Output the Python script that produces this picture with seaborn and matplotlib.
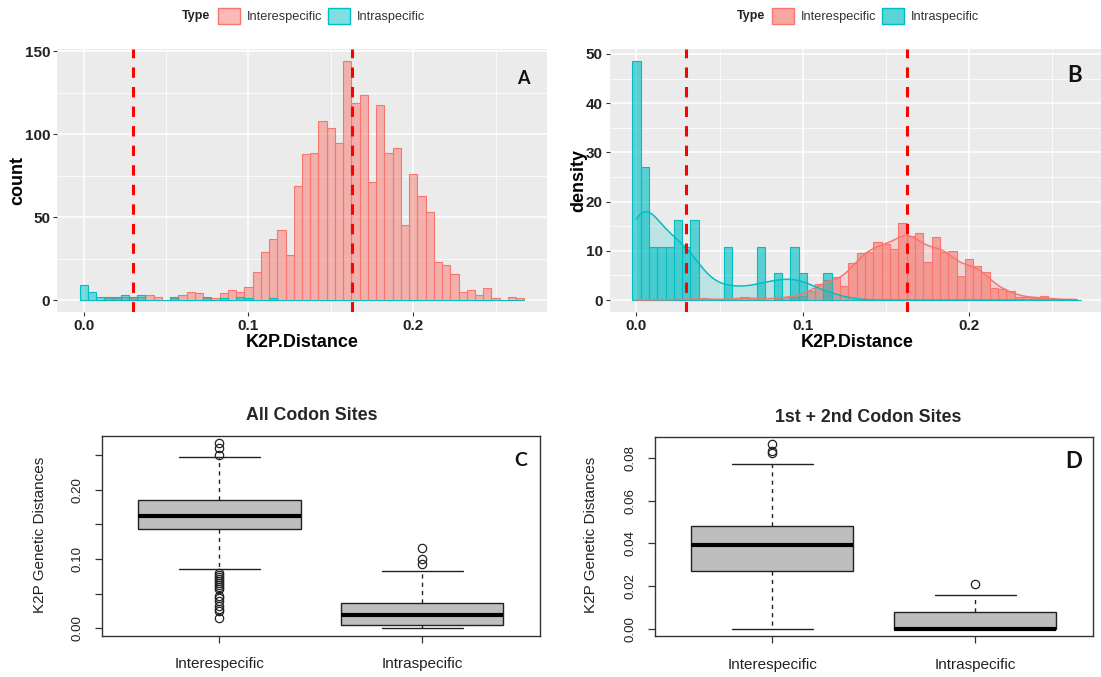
import numpy as np
import pandas as pd
import matplotlib
matplotlib.use("Agg")
import matplotlib.pyplot as plt
import seaborn as sns
from matplotlib.patches import Patch
from matplotlib.colors import to_rgba

# ------------------------------------------------------------------ data
bin_width = 0.005
k2p_bin_centers = np.round(np.arange(54) * bin_width, 4)   # bins centred on 0.000 ... 0.265

inter_counts = [0, 0, 0, 1, 1, 2, 1, 2, 3, 2,
                0, 1, 3, 5, 4, 1, 1, 4, 6, 5,
                8, 17, 29, 37, 42, 27, 69, 88, 89, 108,
                104, 95, 144, 119, 124, 71, 118, 89, 92, 45,
                76, 63, 53, 23, 21, 16, 5, 6, 3, 7,
                1, 0, 2, 1]
intra_counts = [9, 5, 2, 2, 2, 3, 2, 3, 0, 0,
                0, 2, 0, 0, 0, 2, 0, 1, 0, 2,
                1, 0, 0, 1, 0, 0, 0, 0, 0, 0,
                0, 0, 0, 0, 0, 0, 0, 0, 0, 0,
                0, 0, 0, 0, 0, 0, 0, 0, 0, 0,
                0, 0, 0, 0]
threshold_lines = [0.0299, 0.163]
type_labels = ["Interespecific", "Intraspecific"]

# boxplot C (all codon sites)
c_whislo = [0.0855, 0.0]
c_q1 = [0.1435, 0.0043]
c_med = [0.1623, 0.0193]
c_q3 = [0.1845, 0.0367]
c_whishi = [0.2464, 0.083]
c_fliers_inter = [0.2667, 0.2603, 0.2497, 0.080, 0.077, 0.074, 0.071, 0.068, 0.065,
                  0.062, 0.059, 0.056, 0.046, 0.043, 0.040, 0.032, 0.028, 0.025, 0.015]
c_fliers_intra = [0.116, 0.100, 0.0928]
# boxplot D (1st + 2nd codon sites)
d_whislo = [0.0, 0.0]
d_q1 = [0.027, 0.0]
d_med = [0.0391, 0.0]
d_q3 = [0.048, 0.0078]
d_whishi = [0.0772, 0.0156]
d_fliers_inter = [0.0863, 0.0831, 0.0821]
d_fliers_intra = [0.0209]

df = pd.DataFrame({"K2P.Distance": k2p_bin_centers,
                   "inter": np.asarray(inter_counts, dtype=float),
                   "intra": np.asarray(intra_counts, dtype=float)})

# ------------------------------------------------------------------ style
RED = "#F8766D"
TEAL = "#00BFC4"
sns.set_theme(style="white")
plt.rcParams["font.family"] = ["Liberation Sans", "DejaVu Sans"]

W, H = 1101, 677
fig = plt.figure(figsize=(W / 100, H / 100), dpi=100)


def fax(l, t, r, b):
    return fig.add_axes([l / W, 1 - b / H, (r - l) / W, (b - t) / H])


axA = fax(57, 49, 547, 312)
axB = fax(609.5, 49, 1104, 312)
axC = fax(101.7, 435.7, 540, 635.7)
axD = fax(654.5, 437.3, 1093, 636)

BINRANGE = (-bin_width / 2, k2p_bin_centers[-1] + bin_width / 2)
NBINS = len(k2p_bin_centers)


def gg_style(ax, ylim, ymaj, ymin, ylabs, ylabel):
    ax.set_facecolor("#EBEBEB")
    for s in ax.spines.values():
        s.set_visible(False)
    ax.set_xlim(-0.0162, 0.2812)
    ax.set_ylim(ylim)
    ax.set_xticks([0.0, 0.1, 0.2], ["0.0", "0.1", "0.2"], fontsize=11, fontweight="bold", color="#222")
    ax.set_xticks([0.05, 0.15, 0.25], minor=True)
    ax.set_yticks(ymaj, ylabs, fontsize=11, fontweight="bold", color="#222")
    ax.set_yticks(ymin, minor=True)
    ax.grid(which="major", color="white", lw=1.1)
    ax.grid(which="minor", color="white", lw=0.55)
    ax.set_axisbelow(True)
    ax.tick_params(which="major", length=3, width=0.8, color="#333", pad=2,
                   bottom=True, left=True)
    ax.tick_params(which="minor", length=0)
    ax.set_xlabel("K2P.Distance", fontsize=13, fontweight="bold", labelpad=1, color="black")
    ax.set_ylabel(ylabel, fontsize=13, fontweight="bold", labelpad=-1.5, color="black")
    for v in threshold_lines:
        ax.axvline(v, color="#FF0000", lw=2.2, ls=(0, (3.4, 3.0)), zorder=6)


def hist(ax, wcol, col, alpha, stat):
    sns.histplot(data=df, x="K2P.Distance", weights=wcol, bins=NBINS, binrange=BINRANGE,
                 stat=stat, color=col, alpha=alpha, edgecolor=col, linewidth=0.8, ax=ax)


# ---- panel A: counts
hist(axA, "inter", RED, 0.5, "count")
hist(axA, "intra", TEAL, 0.5, "count")
gg_style(axA, (-7.2, 151.5), [0, 50, 100, 150], [25, 75, 125], ["0", "50", "100", "150"], "count")

# ---- panel B: densities
hist(axB, "inter", RED, 0.62, "density")
hist(axB, "intra", TEAL, 0.62, "density")


def kde_factor(h, counts):
    sd = np.sqrt(np.cov(k2p_bin_centers, aweights=np.asarray(counts, dtype=float)))
    return h / sd


for wcol, counts, col, h in [("inter", inter_counts, RED, 0.0065),
                             ("intra", intra_counts, TEAL, 0.0105)]:
    f = kde_factor(h, counts)
    sns.kdeplot(data=df, x="K2P.Distance", weights=wcol, bw_method=f, cut=0, fill=True,
                alpha=0.2, linewidth=0, color=col, ax=axB)
    sns.kdeplot(data=df, x="K2P.Distance", weights=wcol, bw_method=f, cut=0, fill=False,
                linewidth=1.1, color=col, ax=axB)
gg_style(axB, (-2.43, 51.0), [0, 10, 20, 30, 40, 50], [5, 15, 25, 35, 45],
         ["0", "10", "20", "30", "40", "50"], "density")


# ---- legends for A and B
def gg_legend(x_type, x_key, a):
    fig.text(x_type / W, 1 - 16 / H, "Type", fontsize=9, fontweight="bold", ha="center",
             va="center", color="#222")
    handles = [Patch(facecolor=to_rgba(RED, a), edgecolor=RED, lw=1),
               Patch(facecolor=to_rgba(TEAL, a), edgecolor=TEAL, lw=1)]
    fig.legend(handles, type_labels, loc="center left", bbox_to_anchor=(x_key / W, 1 - 16 / H),
               ncol=2, frameon=False, fontsize=9.2, handlelength=1.72, handleheight=1.56,
               handletextpad=0.52, columnspacing=0.49, borderpad=0, borderaxespad=0,
               labelcolor="#333")


gg_legend(196.5, 218, 0.5)
gg_legend(751, 772, 0.65)


# ---- panels C and D: base-R style boxplots
def r_box(ax, whislo, q1, med, q3, whishi, fliers, ylim, yticks, ylabs):
    stats = [dict(whislo=whislo[i], q1=q1[i], med=med[i], q3=q3[i], whishi=whishi[i],
                  fliers=fliers[i], label=type_labels[i]) for i in range(2)]
    ax.bxp(stats, positions=[1, 2], widths=0.8, capwidths=0.4, patch_artist=True,
           manage_ticks=False,
           boxprops=dict(facecolor="#BEBEBE", edgecolor="#222", linewidth=1.0),
           whiskerprops=dict(color="#222", linewidth=1.0, linestyle=(0, (3, 3))),
           capprops=dict(color="#222", linewidth=1.0),
           medianprops=dict(color="black", linewidth=3, solid_capstyle="butt"),
           flierprops=dict(marker="o", markerfacecolor="none", markeredgecolor="#222",
                           markersize=6, markeredgewidth=0.9))
    ax.set_facecolor("white")
    for s in ax.spines.values():
        s.set_visible(True)
        s.set_color("#333")
        s.set_linewidth(1.0)
    ax.set_xlim(0.42, 2.58)
    ax.set_ylim(ylim)
    ax.set_xticks([1, 2], type_labels, fontsize=11, color="#222")
    ax.set_yticks(yticks, ylabs, fontsize=9.6, rotation=90, va="center", color="#222")
    ax.tick_params(length=5, width=0.9, color="#333", direction="out", bottom=True, left=True)
    ax.tick_params(axis="y", pad=8)
    ax.tick_params(axis="x", pad=10.5)
    ax.grid(False)


r_box(axC, c_whislo, c_q1, c_med, c_q3, c_whishi, [c_fliers_inter, c_fliers_intra],
      (-0.0107, 0.2777), [0, 0.05, 0.10, 0.15, 0.20, 0.25], ["0.00", "", "0.10", "", "0.20", ""])
r_box(axD, d_whislo, d_q1, d_med, d_q3, d_whishi, [d_fliers_inter, d_fliers_intra],
      (-0.00345, 0.0896), [0, 0.02, 0.04, 0.06, 0.08], ["0.00", "0.02", "0.04", "0.06", "0.08"])

fig.text(312 / W, 1 - 416 / H, "All Codon Sites", fontsize=12.8, fontweight="bold",
         ha="center", va="center")
fig.text(868 / W, 1 - 418 / H, "1st + 2nd Codon Sites", fontsize=12.8, fontweight="bold",
         ha="center", va="center")
fig.text(39.6 / W, 1 - 535 / H, "K2P Genetic Distances", fontsize=11, rotation=90,
         ha="center", va="center", color="#222")
fig.text(591 / W, 1 - 535 / H, "K2P Genetic Distances", fontsize=11, rotation=90,
         ha="center", va="center", color="#222")

# ---- panel letters
for lab, x, y, fs in [("A", 523, 78, 13), ("B", 1074.5, 75, 16), ("C", 521, 460, 14),
                      ("D", 1073.7, 462, 16)]:
    fig.text(x / W, 1 - y / H, lab, fontsize=fs, fontweight="bold", family="Lato",
             ha="center", va="center", color="#111")

fig.savefig("out.png", dpi=100)
